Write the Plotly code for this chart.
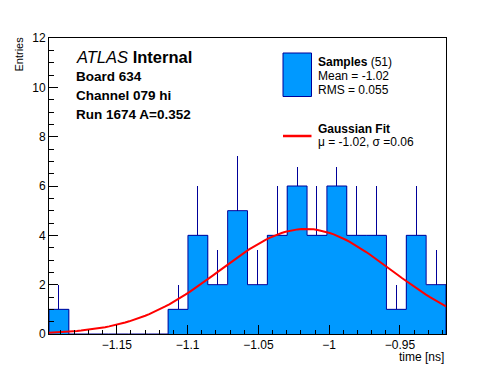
import numpy as np
import plotly.graph_objects as go

# ---------------- data ----------------
x_min = -1.1979
x_max = -0.9175
n_bins = 20
counts = [1, 0, 0, 0, 0, 0, 1, 4, 2, 5, 2, 4, 6, 4, 6, 4, 4, 1, 4, 2]
n_entries = 51
fit_amp = 4.26
fit_mu = -1.0166
fit_sigma = 0.0606
x_ticks = [-1.15, -1.1, -1.05, -1.0, -0.95]
x_tick_labels = ["\u22121.15", "\u22121.1", "\u22121.05", "\u22121", "\u22120.95"]
y_ticks = [0, 2, 4, 6, 8, 10, 12]

# ---------------- derived ----------------
bw = (x_max - x_min) / n_bins
edges = [x_min + i * bw for i in range(n_bins + 1)]
centers = [x_min + (i + 0.5) * bw for i in range(n_bins)]
errs = [float(np.sqrt(c)) for c in counts]

step_x = [edges[0]] + edges[:-1] + [edges[-1], edges[-1]]
step_y = [0] + counts + [counts[-1], 0]

fx = np.linspace(x_min, x_max, 100)
fy = fit_amp * np.exp(-0.5 * ((fx - fit_mu) / fit_sigma) ** 2)

FILL = "#0099ff"
NAVY = "#000099"
FONT = "Liberation Sans, Arial, sans-serif"

W, H = 496, 372
L, R, T, B = 49, 50, 38, 38
pw, ph = W - L - R, H - T - B


def px(x):
    return (x - L) / pw


def py(y):
    return (H - B - y) / ph


fig = go.Figure()
fig.add_trace(go.Bar(
    x=centers, y=counts, width=bw,
    marker=dict(color=FILL, line=dict(width=0)),
    error_y=dict(type="data", symmetric=False, array=errs,
                 arrayminus=[0] * n_bins, color=NAVY, thickness=1, width=0),
    showlegend=False, hoverinfo="skip",
))
fig.add_trace(go.Scatter(
    x=step_x, y=step_y, mode="lines", line=dict(color=NAVY, width=1, shape="hv"),
    showlegend=False, hoverinfo="skip",
))
fig.add_trace(go.Scatter(
    x=fx, y=fy, mode="lines", line=dict(color="#ff0000", width=2),
    showlegend=False, hoverinfo="skip",
))

ann = []
def add_text(text, x, y, size, xanchor="left", yanchor="middle", angle=0):
    ann.append(dict(text=text, x=px(x), y=py(y), xref="paper", yref="paper",
                    xanchor=xanchor, yanchor=yanchor, showarrow=False,
                    textangle=angle, font=dict(family=FONT, size=size, color="black")))

add_text("<i>ATLAS</i> <b>Internal</b>", 74, 57, 16.5)
add_text("<b>Board 634</b>", 74, 76, 13.5)
add_text("<b>Channel 079 hi</b>", 74, 95, 13.5)
add_text("<b>Run 1674 A=0.352</b>", 74, 114, 13.5)

add_text("<b>Samples</b> (51)", 316, 62, 12)
add_text("Mean = -1.02", 316, 76, 12)
add_text("RMS = 0.055", 316, 90, 12)
add_text("<b>Gaussian Fit</b>", 316, 129, 12)
add_text("\u03bc = -1.02, \u03c3 =0.06", 316, 142, 12)

add_text("time [ns]", 446, 357, 12, xanchor="right")
add_text("Entries", 18, 35, 11, xanchor="center", yanchor="top", angle=-90)

shapes = [
    # white legend background (hides what lies behind the legend)
    dict(type="rect", xref="paper", yref="paper", x0=px(272), x1=px(444),
         y0=py(40), y1=py(167), fillcolor="white", line=dict(width=0), layer="above"),
    dict(type="rect", xref="paper", yref="paper", x0=px(283), x1=px(311.5),
         y0=py(53), y1=py(96.5), fillcolor=FILL, line=dict(color=NAVY, width=1), layer="above"),
    dict(type="line", xref="paper", yref="paper", x0=px(283), x1=px(311.5),
         y0=py(136), y1=py(136), line=dict(color="#ff0000", width=2.5), layer="above"),
]

fig.update_layout(
    width=W, height=H,
    margin=dict(l=L, r=R, t=T, b=B, pad=0),
    paper_bgcolor="white", plot_bgcolor="white",
    bargap=0, showlegend=False,
    font=dict(family=FONT, size=12, color="black"),
    annotations=ann, shapes=shapes,
    xaxis=dict(range=[x_min, x_max], showgrid=False, zeroline=False,
               showline=True, mirror=True, linecolor="black", linewidth=1,
               ticks="inside", ticklen=9, tickcolor="black",
               tickvals=x_ticks, ticktext=x_tick_labels,
               minor=dict(dtick=0.01, tick0=-1.0, ticks="inside", ticklen=4, tickcolor="black", showgrid=False),
               tickfont=dict(size=12)),
    yaxis=dict(range=[0, 12], showgrid=False, zeroline=False,
               showline=True, mirror=True, linecolor="black", linewidth=1,
               ticks="inside", ticklen=9, tickcolor="black",
               tickvals=y_ticks,
               minor=dict(dtick=0.5, tick0=0, ticks="inside", ticklen=5, tickcolor="black", showgrid=False),
               tickfont=dict(size=12)),
)

fig.write_html("out.html", config={"displayModeBar": False},
               post_script="document.body.style.margin='0';document.body.style.overflow='hidden';")
